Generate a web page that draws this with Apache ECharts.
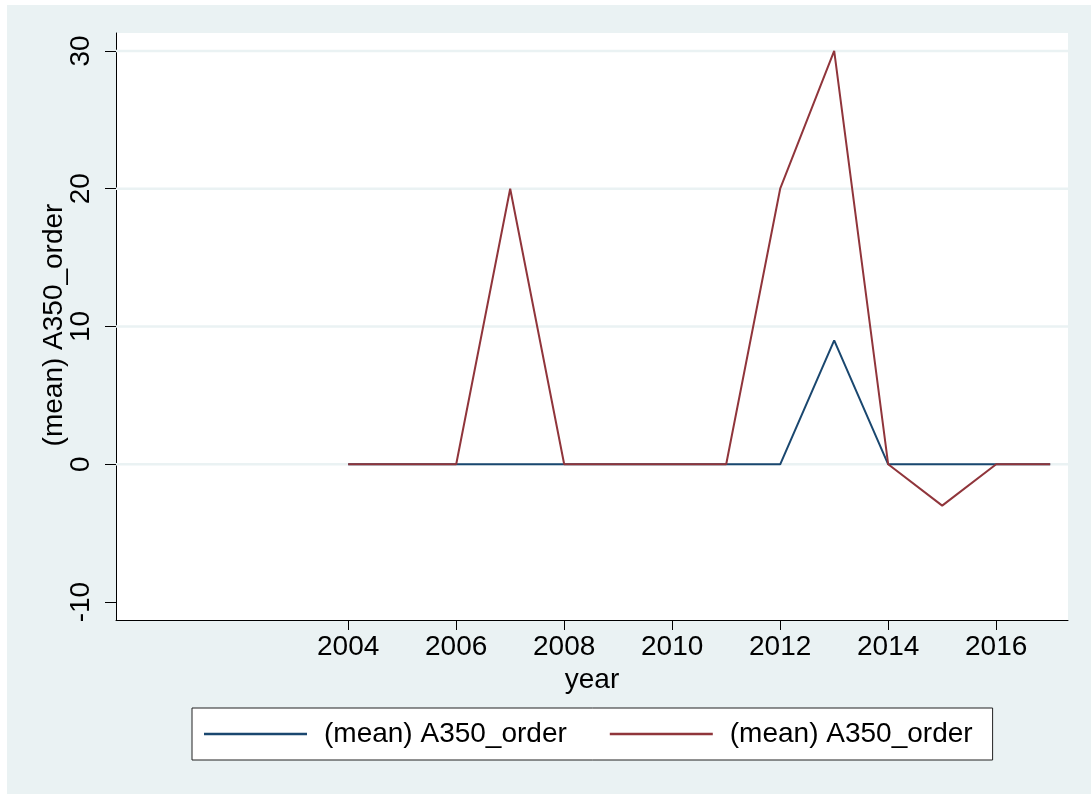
<!DOCTYPE html>
<html>
<head>
<meta charset="utf-8">
<script src="https://cdn.jsdelivr.net/npm/echarts@6/dist/echarts.min.js"></script>
<style>
  html, body { margin: 0; padding: 0; background: #ffffff; }
  #chart { width: 1091px; height: 794px; }
</style>
</head>
<body>
<div id="chart"></div>
<script>
// Years on the x axis
const years = [2004, 2005, 2006, 2007, 2008, 2009, 2010, 2011, 2012, 2013, 2014, 2015, 2016, 2017];
// Mean A350 orders, first and second series
const orderA = [0, 0, 0, 0, 0, 0, 0, 0, 0, 9, 0, 0, 0, 0];
const orderB = [0, 0, 0, 20, 0, 0, 0, 0, 20, 30, 0, -3, 0, 0];
const seriesNames = ['(mean) A350_order', '(mean) A350_order'];
// Tick labels
const xTicks = [2004, 2006, 2008, 2010, 2012, 2014, 2016];
const yTicks = [-10, 0, 10, 20, 30];
const yGrid = [0, 10, 20, 30];

const X_MIN = 1999.7, X_MAX = 2017.33;
const Y_MIN = -11.3, Y_MAX = 31.3;

const FONT = 'Liberation Sans, Arial, sans-serif';
const FS = 28;
const BG = '#EAF2F3';

const pairs = (ys) => years.map((y, i) => [y, ys[i]]);

const chart = echarts.init(document.getElementById('chart'), null, { renderer: 'canvas' });
chart.setOption({
  backgroundColor: '#ffffff',
  animation: false,
  textStyle: { fontFamily: FONT },
  graphic: [
    { type: 'rect', z: -100, shape: { x: 7, y: 5, width: 1084, height: 789 }, style: { fill: BG } },
    {
      type: 'text', z: 10, x: 54, y: 325, rotation: Math.PI / 2,
      style: { text: '(mean) A350_order', font: FS + 'px ' + FONT, fill: '#000', align: 'center', verticalAlign: 'middle' }
    }
  ],
  grid: {
    left: 116, top: 33, right: 23, bottom: 174,
    show: true, backgroundColor: '#ffffff', borderWidth: 0
  },
  legend: {
    left: 192, top: 708,
    padding: [11, 20, 11, 12],
    backgroundColor: '#ffffff', borderColor: '#222', borderWidth: 1,
    itemWidth: 103, itemHeight: 2.5, itemGap: 43,
    icon: 'rect',
    textStyle: { fontSize: FS, color: '#000', fontFamily: FONT, lineHeight: 30, padding: [0, 0, 0, 12] },
    data: [
      { name: 'a', icon: 'rect', itemStyle: { color: '#1A476F' } },
      { name: 'b', icon: 'rect', itemStyle: { color: '#90353B' } }
    ],
    formatter: (n) => n === 'a' ? seriesNames[0] : seriesNames[1]
  },
  xAxis: {
    type: 'value', min: X_MIN, max: X_MAX,
    name: 'year', nameLocation: 'middle', nameGap: 42,
    nameTextStyle: { fontSize: FS, color: '#000', fontFamily: FONT },
    axisLine: { show: true, onZero: false, lineStyle: { color: '#000', width: 1 } },
    axisTick: { show: true, length: 10, customValues: xTicks, lineStyle: { color: '#000', width: 1 } },
    axisLabel: { customValues: xTicks, fontSize: FS, color: '#000', margin: 13, formatter: (v) => String(v) },
    splitLine: { show: false }
  },
  yAxis: {
    type: 'value', min: Y_MIN, max: Y_MAX,
    axisLine: { show: true, onZero: false, lineStyle: { color: '#000', width: 1 } },
    axisTick: { show: true, length: 11, customValues: yTicks, lineStyle: { color: '#000', width: 1 } },
    axisLabel: { customValues: yTicks, fontSize: FS, color: '#000', margin: 21, rotate: 90, formatter: (v) => String(v) },
    splitLine: { show: false }
  },
  series: [
    {
      // horizontal grid lines at the labelled y values
      type: 'custom', z: 1, silent: true,
      data: yGrid,
      renderItem: (params, api) => {
        const v = api.value(0);
        const p1 = api.coord([X_MIN, v]);
        const p2 = api.coord([X_MAX, v]);
        return { type: 'line', shape: { x1: p1[0], y1: p1[1], x2: p2[0], y2: p2[1] }, style: { stroke: BG, lineWidth: 2.5 } };
      },
      encode: { y: 0 }
    },
    {
      name: 'a', type: 'line', z: 3, data: pairs(orderA),
      showSymbol: false, symbol: 'none',
      lineStyle: { color: '#1A476F', width: 2 }, itemStyle: { color: '#1A476F' }
    },
    {
      name: 'b', type: 'line', z: 4, data: pairs(orderB),
      showSymbol: false, symbol: 'none',
      lineStyle: { color: '#90353B', width: 2 }, itemStyle: { color: '#90353B' }
    }
  ]
});
</script>
</body>
</html>
